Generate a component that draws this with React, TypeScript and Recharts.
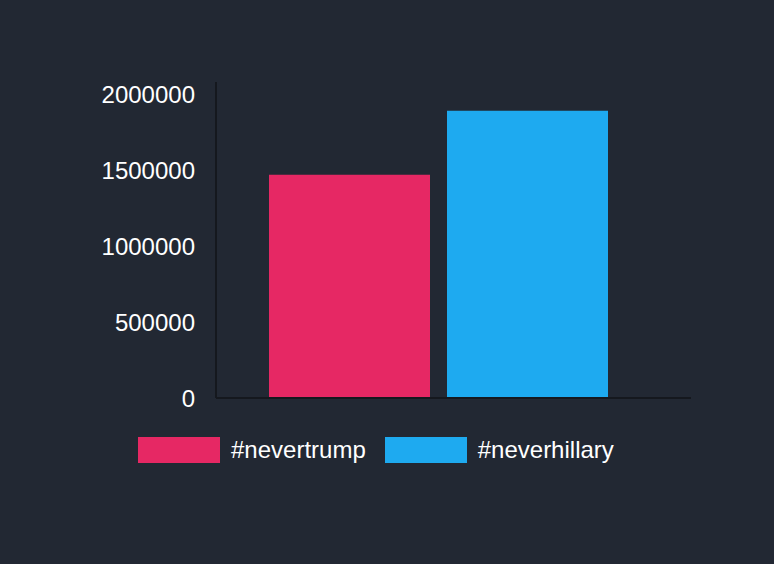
import { Bar, BarChart, Legend, XAxis, YAxis } from "recharts";

const CATEGORIES = ["Tweets"];
const NEVERTRUMP = [1470000];
const NEVERHILLARY = [1890000];
const Y_TICKS = [0, 500000, 1000000, 1500000, 2000000];

const SERIES = [
  { key: "nevertrump", name: "#nevertrump", color: "#E62864", values: NEVERTRUMP },
  { key: "neverhillary", name: "#neverhillary", color: "#1EAAF0", values: NEVERHILLARY },
];

const data = CATEGORIES.map((category, i) => {
  const row: Record<string, string | number> = { category };
  SERIES.forEach((s) => {
    row[s.key] = s.values[i];
  });
  return row;
});

const FONT = '"Liberation Sans", Arial, Helvetica, sans-serif';
const BG = "#222833";
const AXIS = "#15181e";

// legend keeps series order (recharts would sort it by name)
function SwatchLegend() {
  return (
    <div style={{ display: "flex", alignItems: "center", fontFamily: FONT }}>
      {SERIES.map((s, i) => (
        <div key={s.key} style={{ display: "flex", alignItems: "center", marginLeft: i === 0 ? 0 : 19 }}>
          <span style={{ display: "inline-block", width: 82, height: 26, backgroundColor: s.color }} />
          <span style={{ marginLeft: 11, color: "#FFFFFF", fontSize: 24, lineHeight: "26px" }}>{s.name}</span>
        </div>
      ))}
    </div>
  );
}

export default function App() {
  return (
    <div style={{ position: "fixed", inset: 0, background: BG }}>
      <BarChart
        width={774}
        height={564}
        data={data}
        margin={{ top: 82, right: 83, bottom: 165, left: 0 }}
        barCategoryGap={0}
        barGap={17}
      >
        <XAxis
          dataKey="category"
          tick={false}
          tickLine={false}
          axisLine={{ stroke: AXIS, strokeWidth: 2 }}
          padding={{ left: 53, right: 83 }}
          height={1}
        />
        <YAxis
          width={216}
          domain={[0, 2080000]}
          ticks={Y_TICKS}
          interval={0}
          tickLine={false}
          tickSize={0}
          tickMargin={21}
          axisLine={{ stroke: AXIS, strokeWidth: 2 }}
          tick={{ fill: "#FFFFFF", fontSize: 24, fontFamily: FONT }}
        />
        <Legend
          layout="horizontal"
          verticalAlign="middle"
          align="center"
          wrapperStyle={{ top: 437, left: 138, width: "auto" }}
          content={<SwatchLegend />}
        />
        {SERIES.map((s) => (
          <Bar key={s.key} dataKey={s.key} name={s.name} fill={s.color} isAnimationActive={false} />
        ))}
      </BarChart>
    </div>
  );
}
